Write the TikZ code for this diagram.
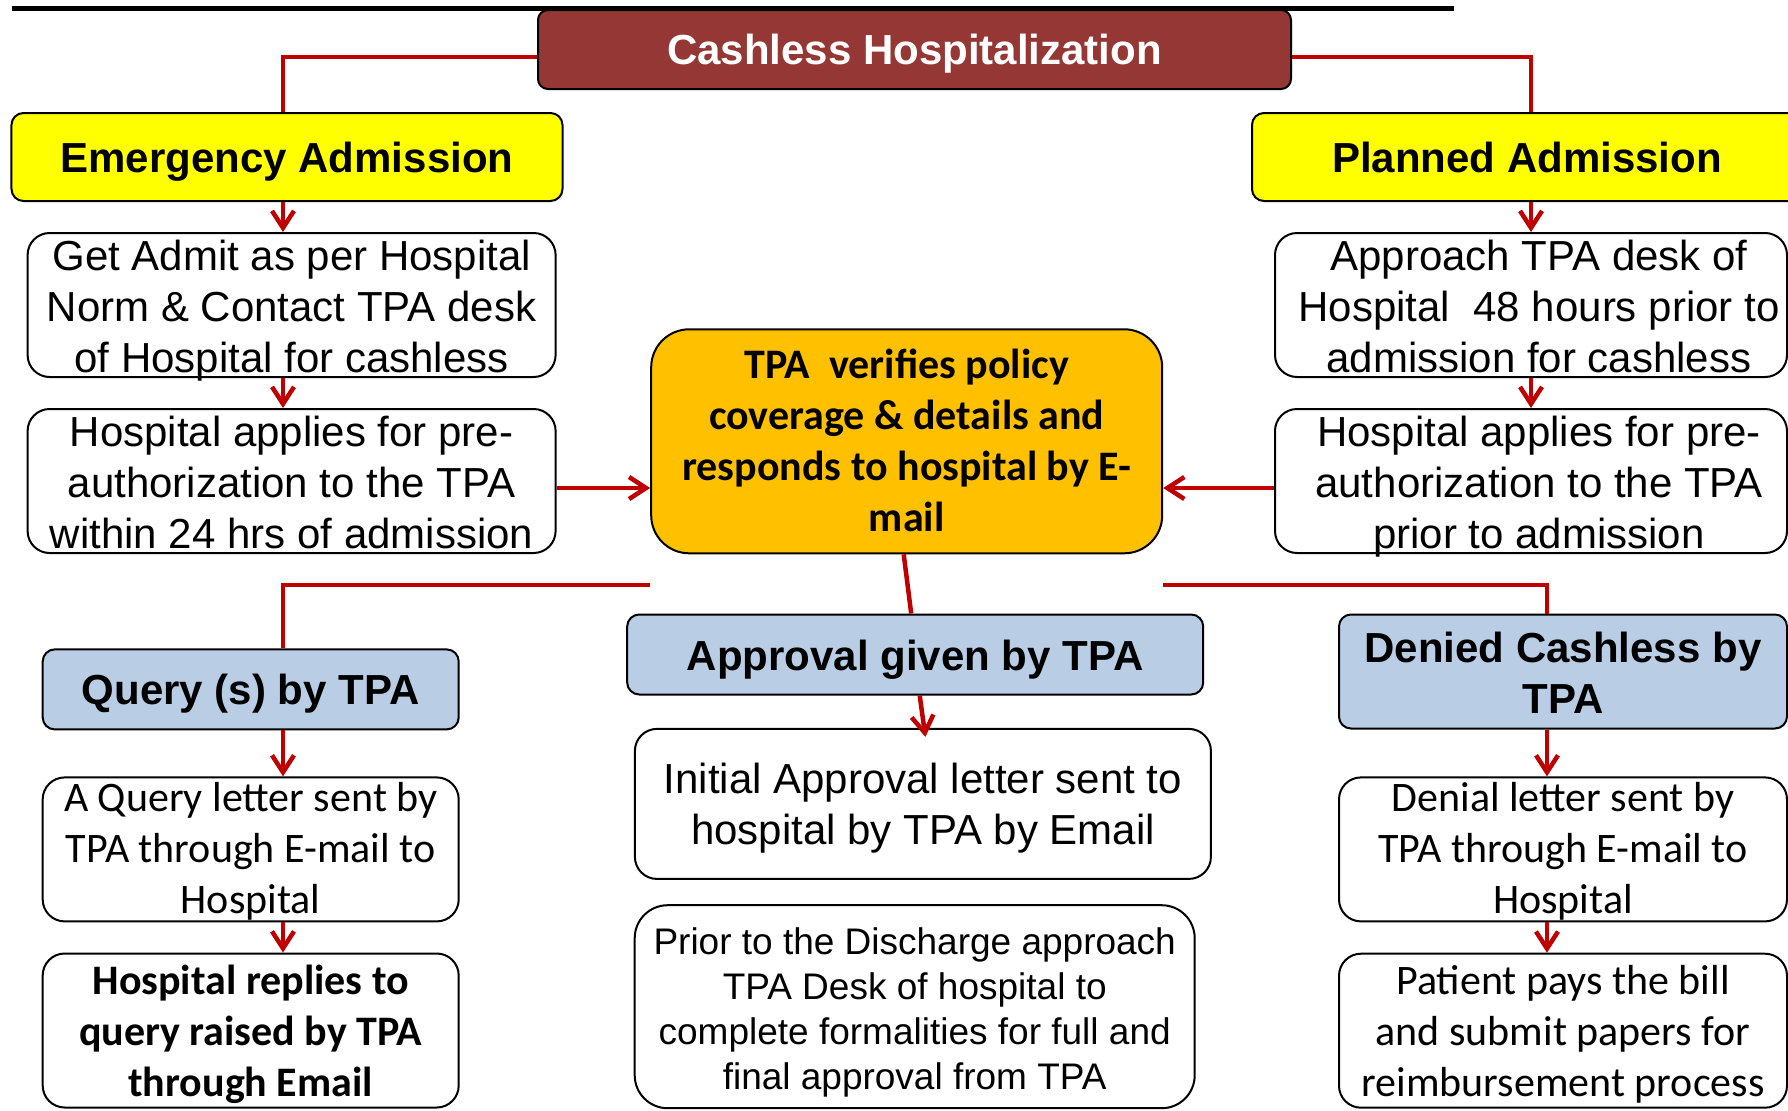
\documentclass[tikz,border=0pt]{standalone}
\usepackage{fontspec}
\setmainfont{Liberation Sans}
\newfontfamily\calfont{Carlito}
\usetikzlibrary{arrows.meta}
\definecolor{titlered}{HTML}{953735}
\definecolor{yel}{HTML}{FFFF00}
\definecolor{orng}{HTML}{FFC000}
\definecolor{lblue}{HTML}{B9CDE5}
\definecolor{arrowred}{HTML}{C00000}
% #1: raise of the first baseline above the node centre, #2: lines
\newcommand\boxtext[2]{\raisebox{#1}{\begin{tabular}[t]{@{}c@{}}#2\end{tabular}}}
\begin{document}
\begin{tikzpicture}[x=1bp,y=-1bp,
  box/.style={draw=black, line width=2bp, inner sep=0pt, rectangle,
    text height=0pt, text depth=0pt},
  hdr/.style={font=\fontsize{42bp}{51bp}\selectfont\bfseries},
  body/.style={font=\fontsize{42bp}{51bp}\selectfont},
  small/.style={font=\fontsize{37bp}{45bp}\selectfont},
  calb/.style={font=\calfont\fontsize{42bp}{51bp}\selectfont},
  calbb/.style={font=\calfont\fontsize{42bp}{51bp}\selectfont\bfseries},
  conn/.style={draw=arrowred, line width=4.5bp},
  arr/.style={conn, -{Straight Barb[length=17bp,width=22bp]}}]
\useasboundingbox (0,0) rectangle (1788,1110);
\coordinate (cL) at (283,0);
\coordinate (cR) at (1531,0);
\coordinate (cD) at (1547,0);
\coordinate (rowA) at (0,488);
\coordinate (rowB) at (0,585);
\draw[line width=5bp] (11.5,8.5) -- (1454,8.5);
% top
\node[box, fill=titlered, text=white, hdr, rounded corners=10bp,
  minimum width=753bp, minimum height=79bp] (title) at (914.5,49.5)
  {\boxtext{-14.8bp}{Cashless Hospitalization}};
\node[box, fill=yel, hdr, rounded corners=12bp,
  minimum width=551bp, minimum height=88bp] (em) at (287,157)
  {\boxtext{-15.3bp}{Emergency Admission}};
\node[box, fill=yel, hdr, rounded corners=12bp,
  minimum width=550bp, minimum height=88bp] (pl) at (1527,157)
  {\boxtext{-15.3bp}{Planned Admission}};
% left column
\node[box, fill=white, body, rounded corners=22bp,
  minimum width=528bp, minimum height=144bp] (ga) at (291.6,305)
  {\boxtext{35bp}{Get Admit as per Hospital\\Norm \& Contact TPA desk\\of Hospital for cashless}};
\node[box, fill=white, body, rounded corners=22bp,
  minimum width=528bp, minimum height=144bp] (ha1) at (291.6,481)
  {\boxtext{35bp}{Hospital applies for pre-\\authorization to the TPA\\within 24 hrs of admission}};
% right column
\node[box, fill=white, body, rounded corners=22bp,
  minimum width=512bp, minimum height=144bp] (ap) at (1531,305)
  {\hspace*{16bp}\boxtext{35bp}{Approach TPA desk of\\Hospital\ \ 48 hours prior to\\admission for cashless}};
\node[box, fill=white, body, rounded corners=22bp,
  minimum width=512bp, minimum height=144bp] (ha2) at (1531,481)
  {\hspace*{16bp}\boxtext{35bp}{Hospital applies for pre-\\authorization to the TPA\\prior to admission}};
% centre
\node[box, fill=orng, calbb, rounded corners=38bp,
  minimum width=511bp, minimum height=224bp] (tpa) at (906.7,441.3)
  {\boxtext{62.8bp}{TPA\ \ verifies policy\\coverage \& details and\\responds to hospital by E-\\mail}};
% second level
\node[box, fill=lblue, hdr, rounded corners=12bp,
  minimum width=416bp, minimum height=80bp] (q) at (250.7,689.4)
  {\boxtext{-15bp}{Query (s) by TPA}};
\node[box, fill=lblue, hdr, rounded corners=12bp,
  minimum width=576bp, minimum height=80bp] (al) at (915.2,654.5)
  {\boxtext{-15.5bp}{Approval given by TPA}};
\node[box, fill=lblue, hdr, rounded corners=12bp,
  minimum width=448bp, minimum height=114bp] (dn) at (1563,671.5)
  {\boxtext{9.5bp}{Denied Cashless by\\TPA}};
% third level
\node[box, fill=white, calb, rounded corners=22bp,
  minimum width=416bp, minimum height=144bp] (ql) at (250.7,849.4)
  {\boxtext{38bp}{A Query letter sent by\\TPA through E-mail to\\Hospital}};
\node[box, fill=white, calbb, rounded corners=22bp,
  minimum width=416bp, minimum height=154bp] (hr) at (250.7,1030.5)
  {\boxtext{36bp}{Hospital replies to\\query raised by TPA\\through Email}};
\node[box, fill=white, body, rounded corners=22bp,
  minimum width=576bp, minimum height=150bp] (ia) at (922.9,803.9)
  {\boxtext{10bp}{Initial Approval letter sent to\\hospital by TPA by Email}};
\node[box, fill=white, small, rounded corners=33bp,
  minimum width=560bp, minimum height=203bp] (pr) at (914.7,1006.7)
  {\boxtext{52.1bp}{Prior to the Discharge approach\\TPA Desk of hospital to\\complete formalities for full and\\final approval from TPA}};
\node[box, fill=white, calb, rounded corners=22bp,
  minimum width=448bp, minimum height=144bp] (dl) at (1563,849.4)
  {\boxtext{38bp}{Denial letter sent by\\TPA through E-mail to\\Hospital}};
\node[box, fill=white, calb, rounded corners=22bp,
  minimum width=448bp, minimum height=154bp] (pp) at (1563,1030.7)
  {\boxtext{36bp}{Patient pays the bill\\and submit papers for\\reimbursement process}};
% connectors top
\draw[conn] ([yshift=-7.5bp]title.west) -| (em.north -| cL);
\draw[conn] ([yshift=-7.5bp]title.east) -| (pl.north -| cR);
\draw[arr] (em.south -| cL) -- (ga.north -| cL);
\draw[arr] (ga.south -| cL) -- (ha1.north -| cL);
\draw[arr] (pl.south -| cR) -- (ap.north -| cR);
\draw[arr] (ap.south -| cR) -- (ha2.north -| cR);
\draw[arr] (ha1.east |- rowA) -- (tpa.west |- rowA);
\draw[arr] (ha2.west |- rowA) -- (tpa.east |- rowA);
% connectors bottom
\draw[conn] (tpa.south west |- rowB) -| (q.north -| cL);
\draw[conn] (tpa.south east |- rowB) -| (dn.north -| cD);
\draw[conn] ([xshift=-3bp]tpa.south) -- ([xshift=-4bp]al.north);
\draw[arr] ([xshift=4.5bp]al.south) -- ([xshift=2.5bp,yshift=-9bp]ia.north);
\draw[arr] (q.south -| cL) -- (ql.north -| cL);
\draw[arr] (ql.south -| cL) -- (hr.north -| cL);
\draw[arr] (dn.south -| cD) -- (dl.north -| cD);
\draw[arr] (dl.south -| cD) -- (pp.north -| cD);
\end{tikzpicture}
\end{document}
